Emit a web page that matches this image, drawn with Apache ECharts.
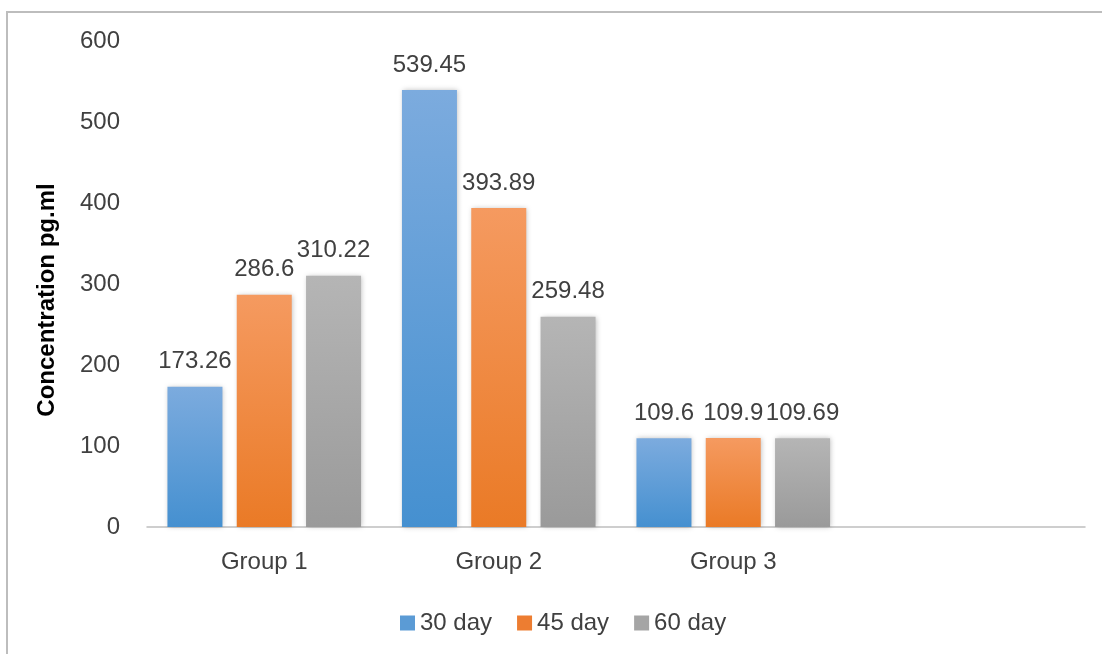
<!DOCTYPE html>
<html>
<head>
<meta charset="utf-8">
<script src="https://cdn.jsdelivr.net/npm/echarts@6/dist/echarts.min.js"></script>
<style>
html,body{margin:0;padding:0;background:#fff;}
#chart{width:1102px;height:654px;}
</style>
</head>
<body>
<div id="chart"></div>
<script>
const categories = ['Group 1', 'Group 2', 'Group 3', ''];
const seriesNames = ['30 day', '45 day', '60 day'];
const day30 = [173.26, 539.45, 109.6, null];
const day45 = [286.6, 393.89, 109.9, null];
const day60 = [310.22, 259.48, 109.69, null];
const yTicks = { min: 0, max: 600, interval: 100 };
const yTitle = 'Concentration pg.ml';

const FONT = '"Liberation Sans", Arial, sans-serif';
function grad(top, bottom) {
  return new echarts.graphic.LinearGradient(0, 0, 0, 1, [
    { offset: 0, color: top }, { offset: 1, color: bottom }
  ]);
}
const styles = [
  { top: '#7CABDE', bottom: '#4590D0', legend: '#5B9BD5' },
  { top: '#F59A60', bottom: '#EA7A26', legend: '#ED7D31' },
  { top: '#B5B5B5', bottom: '#9A9A9A', legend: '#A5A5A5' }
];
const dataSets = [day30, day45, day60];

const chart = echarts.init(document.getElementById('chart'));
chart.setOption({
  backgroundColor: '#fff',
  animation: false,
  graphic: [
    { type: 'line', shape: { x1: 7, y1: 12, x2: 7, y2: 654 }, style: { stroke: '#BDBDBD', lineWidth: 2 } },
    { type: 'line', shape: { x1: 6, y1: 12, x2: 1102, y2: 12 }, style: { stroke: '#BDBDBD', lineWidth: 2 } }
  ],
  grid: { left: 147, right: 17, top: 41, bottom: 127 },
  legend: {
    left: 395, top: 606,
    itemWidth: 15, itemHeight: 15, itemGap: 25,
    icon: 'rect',
    textStyle: { fontFamily: FONT, fontSize: 24, color: '#404040' },
    data: seriesNames.map((n, i) => ({ name: n, itemStyle: { color: styles[i].legend } }))
  },
  xAxis: {
    type: 'category',
    data: categories,
    axisLine: { lineStyle: { color: '#BFBFBF', width: 1.5 } },
    axisTick: { show: false },
    axisLabel: { fontFamily: FONT, fontSize: 24, color: '#404040', margin: 23 }
  },
  yAxis: {
    type: 'value',
    min: yTicks.min, max: yTicks.max, interval: yTicks.interval,
    name: yTitle,
    nameLocation: 'middle',
    nameGap: 88,
    nameTextStyle: { fontFamily: FONT, fontSize: 24, fontWeight: 'bold', color: '#000', padding: [0, 0, 0, -32] },
    axisLine: { show: false },
    axisTick: { show: false },
    splitLine: { show: false },
    axisLabel: { fontFamily: FONT, fontSize: 24, color: '#404040', margin: 27 }
  },
  series: seriesNames.map((n, i) => ({
    name: n,
    type: 'bar',
    data: dataSets[i],
    barWidth: 55,
    barGap: '26%',
    itemStyle: {
      color: grad(styles[i].top, styles[i].bottom),
      shadowBlur: 5,
      shadowColor: 'rgba(0,0,0,0.25)',
      shadowOffsetX: 1
    },
    label: {
      show: true,
      position: 'top',
      distance: 13,
      fontFamily: FONT,
      fontSize: 24,
      color: '#404040'
    }
  }))
});
</script>
</body>
</html>
